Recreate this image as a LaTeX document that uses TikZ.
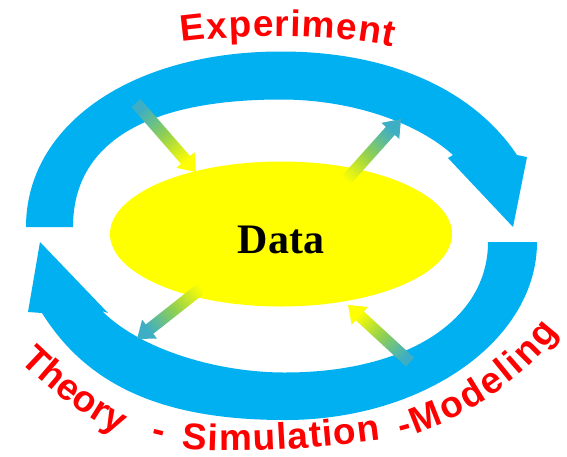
\documentclass[tikz,border=0pt]{standalone}
\usepackage{fontspec}
\setmainfont{Liberation Serif}
\setsansfont{Liberation Sans}
\usepackage{tikz}
\usetikzlibrary{calc,decorations.text,shapes.geometric}

\definecolor{bandblue}{RGB}{0,176,240}
\definecolor{datayellow}{RGB}{255,255,0}
\definecolor{flowteal}{RGB}{62,174,196}
\definecolor{flowgreen}{RGB}{146,208,80}
\definecolor{labelred}{RGB}{255,0,0}

\begin{document}
\begin{tikzpicture}[x=1pt,y=-1pt,
  band/.style={fill=bandblue},
  flow/.style 2 args={top color=#2, bottom color=#1, middle color=flowgreen},
  redtext/.style 2 args={decorate, decoration={text along path, text align=#1,
    text={|\sffamily\bfseries\fontsize{37}{40}\selectfont\color{labelred}|#2}}}]

\useasboundingbox (0,0) rectangle (567,456);

\fill[band] (26,227) .. controls (26,124.5) and (132,51.5) .. (281,51.5)
  .. controls (387,51.5) and (472,88) .. (517,155)
  -- (527,157) -- (513,227) -- (448,158) -- (453,155)
  .. controls (414,120) and (347,99.5) .. (281,99.5)
  .. controls (145,99.5) and (73,143.7) .. (73,227) -- cycle;

\fill[band] (537,242) .. controls (537,340) and (424,420) .. (285,420)
  .. controls (170,420) and (90,390) .. (42,313)
  -- (28,312) -- (40,242) -- (108,313) -- (102,311)
  .. controls (140,349) and (216,372.5) .. (285,372.5)
  .. controls (407,372.5) and (488,320) .. (488,242) -- cycle;

\node[ellipse, fill=datayellow, minimum width=342pt, minimum height=145pt, inner sep=0pt] (data) at (281,234) {};
\node[anchor=base, font=\bfseries\fontsize{42}{48}\selectfont] (datatext) at (281,253) {Data};

\coordinate (a1) at (136,103);
\coordinate (d1) at (196,172);
\coordinate (d2) at (340,187);
\coordinate (a2) at (401,119);
\coordinate (d3) at (208,283);
\coordinate (a3) at (137,339);
\coordinate (a4) at (410,362);
\coordinate (d4) at (348,305);

\foreach \tl/\tp/\ang/\ca/\cb in {a1/d1/-139/flowteal/datayellow, d2/a2/-41.9/datayellow/flowteal,
    d3/a3/128.3/datayellow/flowteal, a4/d4/47.4/flowteal/datayellow}{
  \coordinate (base) at ($(\tp)!16pt!(\tl)$);
  \shade[flow={\ca}{\cb}, shading angle=\ang] ($(\tl)!6pt!90:(\tp)$) -- ($(base)!6pt!90:(\tp)$)
    -- ($(base)!12pt!90:(\tp)$) -- (\tp) -- ($(base)!12pt!-90:(\tp)$)
    -- ($(base)!6pt!-90:(\tp)$) -- ($(\tl)!6pt!-90:(\tp)$) -- cycle;
}

\path[redtext={fit to path}{Experiment}] (182,42) .. controls (230,35) and (330,33) .. (393,47);
\path[redtext={left}{Theory}] (20,361) .. controls (50,391) and (90,421) .. (124,437) -- (140,441);
\path[redtext={center}{-}] (149,440.5) -- (163,444);
\path[redtext={fit to path}{Simulation}] (182,448) .. controls (230,455) and (320,448) .. (381,440);
\path[redtext={fit to path}{-Modeling}] (401,438) .. controls (450,426) and (518,387) .. (559,332);

\end{tikzpicture}
\end{document}
